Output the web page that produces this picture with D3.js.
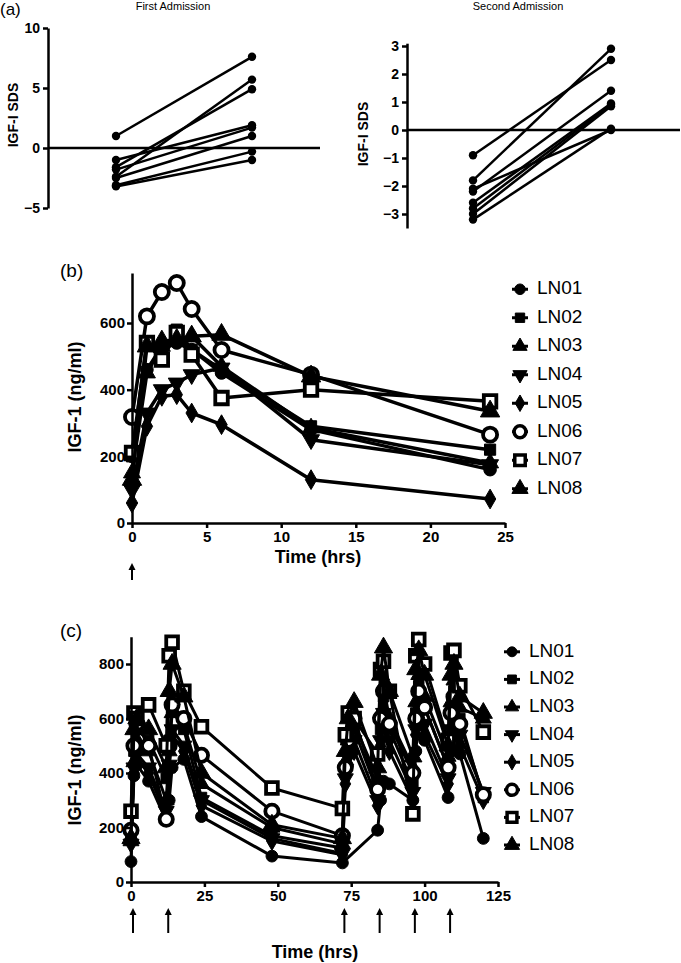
<!DOCTYPE html>
<html><head><meta charset="utf-8">
<script src="https://cdn.jsdelivr.net/npm/d3@7"></script>
<style>
body{margin:0;background:#fff;}
svg{display:block;font-family:"Liberation Sans",Arial,sans-serif;}
</style></head>
<body>
<svg id="chart" width="681" height="963"></svg>
<script>
// ---------- DATA ----------
const patients = ["LN01","LN02","LN03","LN04","LN05","LN06","LN07","LN08"];
// Panel (a)
const admissionPoints = ["pre","post"];
const firstPre  = [1.0, -1.6, -1.8, -1.0, -2.4, -2.5, -3.1, -3.2];
const firstPost = [7.6, 4.9, 1.7, 1.9, 5.7, 1.0, -0.3, -1.0];
const secondPre  = [-0.9, -1.8, -2.1, -2.2, -2.6, -2.8, -3.0, -3.2];
const secondPost = [2.5, 2.9, 0.0, 1.4, 0.95, 0.9, 0.85, 0.05];
const aTicksLeft = [-5, 0, 5, 10];
const aTicksRight = [-3, -2, -1, 0, 1, 2, 3];
// Panel (b)
const timesB = [0, 1, 2, 3, 4, 6, 12, 24];
const bLN01 = [200, 460, 530, 540, 520, 450, 280, 160];
const bLN02 = [200, 545, 490, 580, 520, 460, 290, 220];
const bLN03 = [150, 450, 530, 545, 560, 470, 285, 180];
const bLN04 = [100, 330, 400, 420, 445, 465, 250, 175];
const bLN05 = [60, 290, 380, 385, 330, 295, 130, 72];
const bLN06 = [318, 620, 693, 720, 642, 519, 445, 265];
const bLN07 = [210, 540, 490, 570, 505, 375, 400, 365];
const bLN08 = [130, 530, 545, 550, 560, 565, 440, 335];
const bYTicks = [0, 200, 400, 600];
const bXTicks = [0, 5, 10, 15, 20, 25];
const bDoses = [0];
// Panel (c)
const timesC = [0,1,2,6,12,13,14,18,24,48,72,73,74,76,84,85,86,88,96,97,98,100,108,109,110,112,120];
const cLN01 = [75,390,430,370,225,300,420,450,240,95,70,null,null,null,190,300,370,360,300,480,600,520,310,480,560,470,160];
const cLN02 = [170,480,560,520,380,520,640,560,310,170,125,420,500,560,330,560,680,560,360,620,720,640,420,620,700,600,310];
const cLN03 = [150,440,520,480,300,480,620,580,360,200,140,440,520,580,380,620,720,600,420,660,760,680,460,660,740,640,600];
const cLN04 = [140,420,470,420,260,430,560,500,300,160,105,380,460,520,300,520,620,520,330,560,640,580,380,560,620,540,330];
const cLN05 = [180,400,450,400,240,420,540,480,280,150,100,360,430,480,280,500,580,480,300,540,620,540,360,520,600,500,300];
const cLN06 = [190,500,580,500,230,500,650,600,465,260,170,420,520,600,340,600,700,580,400,600,700,640,420,620,680,580,320];
const cLN07 = [260,620,600,650,500,830,880,700,570,345,270,540,620,600,470,780,810,700,250,830,890,800,520,840,850,720,550];
const cLN08 = [160,560,600,560,420,700,800,680,400,210,160,480,600,660,420,760,860,700,460,780,850,760,500,760,800,680,620];
const cYTicks = [0, 200, 400, 600, 800];
const cXTicks = [0, 25, 50, 75, 100, 125];
const cDoses = [0, 12, 72, 84, 96, 108];

// ---------- HELPERS ----------
const svg = d3.select("#chart");
const FONT = '"Liberation Sans",Arial,sans-serif';

function styleAxis(g, fs){
  g.selectAll("path.domain").attr("stroke","#000").attr("stroke-width",2.5);
  g.selectAll(".tick line").attr("stroke","#000").attr("stroke-width",2.5);
  g.selectAll(".tick text").attr("fill","#000").attr("font-size",fs).attr("font-weight","bold").attr("font-family",FONT);
}

const triDown = {draw(ctx,size){const s=Math.sqrt(size/(Math.sqrt(3)/4)); const h=s*Math.sqrt(3)/2; ctx.moveTo(-s/2,-h/3); ctx.lineTo(s/2,-h/3); ctx.lineTo(0,2*h/3); ctx.closePath();}};
const markerDefs = [
  {type:d3.symbolCircle, open:false, k:1.0},
  {type:d3.symbolSquare, open:false, k:1.0},
  {type:d3.symbolTriangle, open:false, k:1.0},
  {type:triDown, open:false, k:1.0},
  {type:d3.symbolDiamond, open:false, k:0.9},
  {type:d3.symbolCircle, open:true, k:1.25},
  {type:d3.symbolSquare, open:true, k:1.25},
  {type:d3.symbolTriangle, open:false, k:1.3}
];
function drawMarker(g, i, x, y, base, sw){
  const m = markerDefs[i];
  g.append("path")
    .attr("d", d3.symbol().type(m.type).size(base*m.k)())
    .attr("transform", `translate(${x},${y})`)
    .attr("fill", m.open ? "#fff" : "#000")
    .attr("stroke", "#000")
    .attr("stroke-width", m.open ? sw : 1);
}
function arrow(g, x, y1, y2){
  g.append("line").attr("x1",x).attr("x2",x).attr("y1",y1).attr("y2",y2+5)
    .attr("stroke","#000").attr("stroke-width",2);
  g.append("path").attr("d",`M${x-3.5},${y2+7}L${x},${y2}L${x+3.5},${y2+7}Z`).attr("fill","#000");
}

// ---------- PANEL (a) ----------
function panelA(cfg){
  const g = svg.append("g");
  const x = d3.scalePoint().domain(admissionPoints).range(cfg.xr);
  const y = d3.scaleLinear().domain(cfg.yd).range(cfg.yr);
  const ax = g.append("g").attr("transform",`translate(${cfg.ax},0)`)
    .call(d3.axisLeft(y).tickValues(cfg.ticks).tickFormat(d3.format("d")).tickSize(5).tickSizeOuter(0).tickPadding(3));
  styleAxis(ax, 14);
  g.append("line").attr("x1",cfg.ax).attr("x2",cfg.zx).attr("y1",y(0)).attr("y2",y(0))
    .attr("stroke","#000").attr("stroke-width",2.5);
  cfg.pre.forEach((v,i)=>{
    g.append("line").attr("x1",x("pre")).attr("y1",y(v)).attr("x2",x("post")).attr("y2",y(cfg.post[i]))
      .attr("stroke","#000").attr("stroke-width",2.5);
  });
  cfg.pre.forEach((v,i)=>{
    g.append("circle").attr("cx",x("pre")).attr("cy",y(v)).attr("r",4.2).attr("fill","#000");
    g.append("circle").attr("cx",x("post")).attr("cy",y(cfg.post[i])).attr("r",4.2).attr("fill","#000");
  });
  g.append("text").attr("x",cfg.tx).attr("y",10).attr("text-anchor","middle")
    .attr("font-size",11).attr("font-family",FONT).text(cfg.title);
  g.append("text").attr("transform",`translate(${cfg.lx},${cfg.ly}) rotate(-90)`)
    .attr("text-anchor","middle").attr("dominant-baseline","middle")
    .attr("font-size",14).attr("font-weight","bold").attr("font-family",FONT).text("IGF-I SDS");
}
svg.append("text").attr("x",0).attr("y",15).attr("font-size",17).attr("font-family",FONT).text("(a)");
panelA({xr:[116,252], yd:[-5,10], yr:[208,28], ax:48, zx:320, ticks:aTicksLeft,
  pre:firstPre, post:firstPost, title:"First Admission", tx:173, lx:14, ly:115});
panelA({xr:[473,611], yd:[-3.5,3.1], yr:[228,43.2], ax:407, zx:680, ticks:aTicksRight,
  pre:secondPre, post:secondPost, title:"Second Admission", tx:518, lx:364, ly:134});

// ---------- PANELS (b) and (c) ----------
function panelTime(cfg){
  const g = svg.append("g");
  const x = d3.scaleLinear().domain(cfg.xd).range(cfg.xr);
  const y = d3.scaleLinear().domain(cfg.yd).range(cfg.yr);
  const line = d3.line().x(d=>x(d.t)).y(d=>y(d.v));
  cfg.series.forEach((vals,i)=>{
    const pts = cfg.times.map((t,j)=>({t, v:vals[j]})).filter(d=>d.v!=null);
    g.append("path").attr("d",line(pts)).attr("fill","none").attr("stroke","#000")
      .attr("stroke-width",cfg.lw).attr("stroke-linejoin","round");
    pts.forEach(d=>drawMarker(g,i,x(d.t),y(d.v),cfg.ms,3.8));
  });
  const yAx = g.append("g").attr("transform",`translate(${cfg.xr[0]},0)`)
    .call(d3.axisLeft(y).tickValues(cfg.yTicks).tickSize(5).tickSizeOuter(0).tickPadding(2));
  styleAxis(yAx, 15);
  const xAx = g.append("g").attr("transform",`translate(0,${cfg.yr[0]})`)
    .call(d3.axisBottom(x).tickValues(cfg.xTicks).tickSize(5).tickSizeOuter(0).tickPadding(3));
  styleAxis(xAx, 15);
  cfg.doses.forEach(t=>arrow(g, x(t)+cfg.arrowDx, cfg.arrowY[1], cfg.arrowY[0]));
  g.append("text").attr("x",cfg.xlabX).attr("y",cfg.xlabY).attr("text-anchor","middle")
    .attr("font-size",18).attr("font-weight","bold").attr("font-family",FONT).text("Time (hrs)");
  g.append("text").attr("transform",`translate(${cfg.ylabX},${cfg.ylabY}) rotate(-90)`)
    .attr("text-anchor","middle").attr("dominant-baseline","middle")
    .attr("font-size",18).attr("font-weight","bold").attr("font-family",FONT).text("IGF-1 (ng/ml)");
  g.append("text").attr("x",60).attr("y",cfg.tagY).attr("font-size",19).attr("font-family",FONT).text(cfg.tag);
  // legend
  const leg = d3.scaleBand().domain(patients).range([cfg.legY0, cfg.legY0 + cfg.legStep*8]);
  patients.forEach((p,i)=>{
    const yy = leg(p) + leg.bandwidth()/2;
    g.append("line").attr("x1",cfg.legX-8).attr("x2",cfg.legX+8).attr("y1",yy).attr("y2",yy)
      .attr("stroke","#000").attr("stroke-width",3);
    drawMarker(g,i,cfg.legX,yy,cfg.ms*0.7,3.5);
    g.append("text").attr("x",cfg.legX+17).attr("y",yy).attr("dominant-baseline","middle")
      .attr("font-size",19).attr("font-family",FONT).text(p);
  });
}
panelTime({xd:[0,25], xr:[132,505], yd:[0,750], yr:[523,273], times:timesB,
  series:[bLN01,bLN02,bLN03,bLN04,bLN05,bLN06,bLN07,bLN08], lw:3.5, ms:125,
  yTicks:bYTicks, xTicks:bXTicks, doses:bDoses, arrowDx:0, arrowY:[563,580],
  xlabX:318, xlabY:563, ylabX:76, ylabY:397, tag:"(b)", tagY:277,
  legX:520, legY0:275, legStep:28.5});
panelTime({xd:[0,125], xr:[131,498], yd:[0,900], yr:[882,636.75], times:timesC,
  series:[cLN01,cLN02,cLN03,cLN04,cLN05,cLN06,cLN07,cLN08], lw:3, ms:110,
  yTicks:cYTicks, xTicks:cXTicks, doses:cDoses, arrowDx:2, arrowY:[908,933],
  xlabX:315, xlabY:958, ylabX:76, ylabY:770, tag:"(c)", tagY:637,
  legX:512, legY0:638, legStep:27.6});
</script>
</body></html>
